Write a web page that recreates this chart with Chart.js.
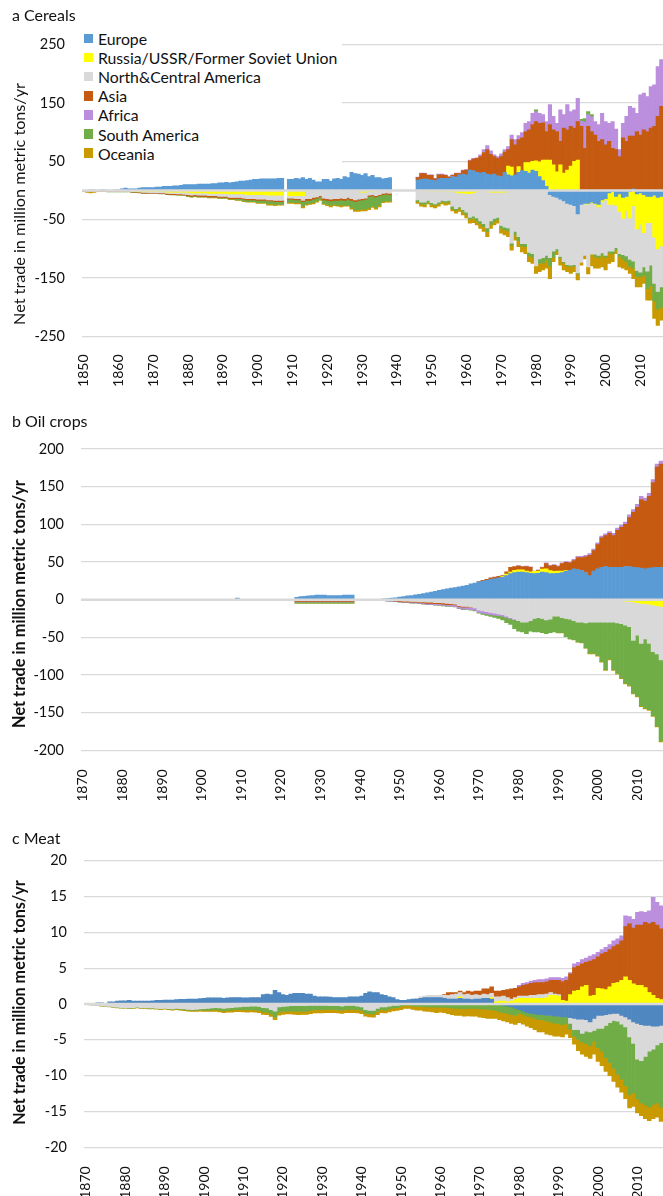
<!DOCTYPE html>
<html>
<head>
<meta charset="utf-8">
<script src="https://cdn.jsdelivr.net/npm/chart.js@4.4.1/dist/chart.umd.min.js"></script>
<style>
  body { margin: 0; width: 663px; height: 1196px; overflow: hidden; background: #fff; position: relative; font-family: Lato, sans-serif; }
  canvas { position: absolute; left: 0; }
  #legend { position: absolute; left: 81px; top: 29px; width: 261px; height: 136px; background: #fff; z-index: 2; }
  #legend div { height: 19.1px; display: flex; align-items: center; font-size: 15.8px; color: #111; white-space: nowrap; }
  #legend span { display: inline-block; width: 9.4px; height: 9.4px; margin: 0 5px 0 2.5px; }
</style>
</head>
<body>
<canvas id="cereals" width="663" height="392" style="top:0"></canvas>
<canvas id="oil" width="663" height="400" style="top:400px"></canvas>
<canvas id="meat" width="663" height="396" style="top:800px"></canvas>
<div id="legend"></div>
<script>
'use strict';
const regions = ['Europe', 'Russia/USSR/Former Soviet Union', 'North&Central America', 'Asia', 'Africa', 'South America', 'Oceania'];
const colors = ['#5B9BD5', '#FFFF00', '#D9D9D9', '#C55A11', '#BB8FDD', '#70AD47', '#C99A00'];
const meatColors = ['#4F87C0', '#FFFF00', '#D9D9D9', '#C55A11', '#BB8FDD', '#70AD47', '#C99A00'];
const yTitle = 'Net trade in million metric tons/yr';

// a Cereals, 1850-2016 (null = no data)
const cerealEurope = [
  0.5,0.5,1,1,0.5,1,1,0.5,0.5,1,
  1,3,4,3,3,3,4,5,5,5,
  5,6,6,7,7,7,8,8,9,10,
  10,10,10,11,11,11,11,12,12,13,
  13,14,13,14,15,16,16,17,18,19,
  19,20,20,20,20,20,21,21,null,19,
  19,21,20,22,19,21,18,15,15,19,
  19,16,20,21,19,24,22,31,29,28,
  26,29,24,26,22,22,20,21,22,null,
  null,null,null,null,null,null,18,19,20,19,
  18,17,20,21,21,21,24,23,27,28,
  27,35,34,31,30,31,28,27,28,25,
  24,31,27,25,27,31,34,33,30,35,
  33,24,17,7,-7,-10,-12,-15,-18,-22,
  -24,-26,-40,-24,-22,-22,-20,-22,-24,-16,
  -14,-4,-2,-10,-6,-12,-10,-2,3,-6,
  -4,-7,-10,-10,-8,-12,-10
];
const cerealRussia = [
  0,0,0,0,0,0,0,0,0,0,
  0,0,0,0,-1,-1,-1,-2,-2,-2,
  -2,-2,-2,-2,-3,-3,-3,-3,-3,-3,
  -3,-4,-4,-4,-4,-4,-5,-5,-5,-5,
  -5,-5,-6,-6,-6,-6,-6,-7,-7,-7,
  -7,-7,-7,-8,-8,-8,-8,-8,null,-9,
  -9,-9,-9,-9,-1,0,0,0,0,0,
  0,0,0,0,0,0,0,0,0,-1,
  -3,-3,-2,-1,-1,0,0,0,0,null,
  null,null,null,null,null,null,0,0,-1,-1,
  -1,-1,-1,-1,-1,-2,-2,-3,-4,-4,
  -5,-5,-4,-2,0,0,-1,-3,-3,-3,
  -3,-3,15,15,0,10,0,15,18,15,
  18,25,35,45,52,44,32,44,30,35,
  42,50,52,0,-1,-1,-1,-2,-4,-4,
  -2,-20,-22,-15,-30,-36,-25,-45,-26,-60,
  -54,-65,-45,-45,-72,-88,-85
];
const cerealNCA = [
  -1,-1,-1,-1,-1,-1,-1,-1,-1,-1,
  -1,-1,-1,-1,-1,-1,-1.5,-1.5,-1.5,-2,
  -2,-2,-2,-2,-2,-2.5,-2.5,-3,-3,-3.5,
  -4,-4,-3,-4,-4,-4,-4,-4,-4,-5,
  -5,-5,-6,-6,-6,-6,-7,-7,-7,-7,
  -8,-8,-8,-8,-8,-9,-9,-9,null,-4,
  -4,-5,-5,-8,-13,-14,-12,-11,-9,-13,
  -14,-15,-14,-14,-13,-14,-12,-14,-16,-14,
  -11,-10,-6,-6,-8,-7,-5,-4,-5,null,
  null,null,null,null,null,null,-16,-20,-19,-16,
  -20,-22,-19,-16,-17,-15,-25,-28,-24,-29,
  -32,-41,-40,-45,-52,-57,-63,-49,-45,-43,
  -57,-60,-64,-90,-70,-79,-91,-91,-106,-108,
  -129,-117,-115,-111,-108,-94,-88,-98,-104,-105,
  -104,-101,-101,-99,-88,-108,-88,-85,-83,-87,
  -95,-80,-80,-73,-72,-62,-77,-71,-95,-71,
  -82,-59,-83,-73,-79,-73,-70
];
const cerealAsia = [
  -0.5,-0.5,-0.5,-0.5,-0.5,-0.5,-0.5,-1,-1,-1,
  -1,-1,-1,-1,-1,-1,-1,-1,-1,-1,
  -1,-1,-1.5,-1.5,-1.5,-1.5,-1.5,-1.5,-1.5,-1.5,
  -2,-2,-2,-2,-2,-2,-2,-2,-2,-2,
  -2,-2,-2,-2,-2,-2,-2,-2,-2,-2,
  -2,-2,-2,-2,-2,-2,-2,-2,null,-2,
  -2,-2,-2,-2,-3,-3,-3,-2,-2,-3,
  -3,-3,-3,-3,-3,-3,-3,-3,-3,-2,
  -2,-2,-2,-2,-2,-2,-2,-2,-2,null,
  null,null,null,null,null,null,4,10,9,7,
  8,3,7,6,5,2,2,6,2,6,
  8,16,20,24,28,34,42,35,30,30,
  34,35,28,47,51,46,56,53,56,63,
  67,66,64,49,61,60,69,40,77,69,
  68,57,66,110,72,110,101,95,84,87,
  78,84,72,70,58,90,84,93,90,101,
  95,104,101,107,110,127,144
];
const cerealAfrica = [
  0,0,0,0,0,0,0,0,0,0,
  0,0,0,0,0,0,0,0,0,0,
  0,0,0,0,0,0,0,0,0,0,
  0,0,0,0,0,0,0,0,0,0,
  0,0,0,0,0,0,0,0,0,0,
  0,0,0,0,0,0,0,0,null,0,
  0,0,0,0,0,0,0,0,0,0,
  0,0,0,0,0,0,0,0,0,0,
  0,0,0,0,0,0,0,0,0,null,
  null,null,null,null,null,null,1,1,1,1,
  1,1,1,1,1,1,1,1,1,1,
  1,1,1,1,3,5,7,6,3,3,
  5,4,5,8,9,7,9,14,14,19,
  17,17,14,17,34,23,14,54,23,43,
  25,31,40,9,45,20,25,23,29,45,
  40,31,46,35,12,25,43,51,48,31,
  69,63,60,71,71,85,80
];
const cerealSouthAm = [
  -0.5,-0.5,-0.5,-0.5,-0.5,-0.5,-0.5,-0.5,-0.5,-0.5,
  -0.5,-0.5,-0.5,-0.5,-0.5,-0.5,-0.5,-0.5,-0.5,-0.5,
  -0.5,-0.5,-0.5,-0.5,-0.5,-0.5,-0.5,-0.5,-0.5,-0.5,
  -1,-1,-1,-1,-1,-1,-1,-1,-1,-1,
  -1,-1,-1,-1,-2,-2,-3,-3,-3,-3,
  -4,-4,-4,-5,-5,-5,-5,-5,null,-5,
  -5,-5,-5,-8,-6,-5,-6,-5,-4,-6,
  -7,-7,-7,-8,-9,-8,-10,-12,-14,-16,
  -16,-17,-20,-17,-18,-16,-12,-12,-11,null,
  null,null,null,null,null,null,-3,-3,-4,-3,
  -3,-2,-3,-2,-3,-3,-4,-3,-3,-3,
  -4,-3,-4,-5,-5,-5,-6,-6,-5,-4,
  -5,-4,-5,-4,-6,-7,-4,-5,-6,-6,
  3,-8,-9,-8,-14,-10,-4,-3,-2,-2,
  -2,-2,-2,3,6,5,4,-4,-4,-4,
  -3,-3,-4,-4,-5,-7,-10,-12,-12,-10,
  -8,-14,-30,-35,-30,-30,-35
];
const cerealOceania = [
  0,-1.5,-2,-1.5,0,0,0,0,0,0,
  0,0,0,0,0,0,0,0,0,0,
  0,0,0,0,0,0,0,0,0,0,
  -0.5,-0.5,-0.5,-0.5,-0.5,-0.5,-0.5,-0.5,-0.5,-0.5,
  -0.5,-0.5,-0.5,-0.5,-1,-1,-1,-1,-1,-1,
  -1,-1,-1,-2,-2,-2,-1,-1,null,-2,
  -2,-2,-2,-3,-2,-2,-2,-2,-2,-2,
  -2,-3,-2,-2,-3,-2,-2,-3,-3,-3,
  -3,-3,-3,-3,-3,-3,-2,-2,-2,null,
  null,null,null,null,null,null,-3,-4,-4,-3,
  -4,-5,-4,-4,-4,-4,-4,-5,-5,-6,
  -6,-7,-7,-7,-8,-8,-9,-7,-6,-6,
  -8,-9,-10,-8,-9,-10,-10,-12,-10,-11,
  -13,-14,-12,-14,-22,-8,-6,-12,-12,-10,
  -12,-10,-10,-5,-6,-12,-20,-20,-18,-20,
  -22,-18,-14,-6,-18,-16,-14,-12,-18,-18,
  -17,-14,-20,-25,-30,-28,-22
];

// b Oil crops, 1870-2016
const oilEurope = [
  0,0,0,0,0,0,0,0,0,0,
  0,0,0,0,0,0,0,0,0,0,
  0,0,0,0,0,0,0,0,0,0,
  0,0,0,0,0,0,0,0,0,2,
  0,0,0,0,0,0,0,0,0,0,
  0,0,0,0,3,4,4.5,5,5.5,6,
  6,6,5.5,5.5,5.5,5.5,6,6,6,null,
  null,null,null,null,null,null,1,1.5,2,2.5,
  3.5,4,5,5.5,6.5,7,8,9,10,11,
  12.5,13.5,14.5,15.5,16,17,18,19,21,22,
  23.5,24.5,25.5,27,28,29,30,32,34.5,36,
  36.7,36.5,36,35,34.5,35,36.7,36,34.5,34.5,
  35,36,37.6,39,41,40,39,36,32,38,
  41,43,44,43,43,43,43,44,44,43,
  42.5,42,41,42,42.5,43,43
];
const oilRussia = [
  0,0,0,0,0,0,0,0,0,0,
  0,0,0,0,0,0,0,0,0,0,
  0,0,0,0,0,0,0,0,0,0,
  0,0,0,0,0,0,0,0,0,-0.8,
  0,0,0,0,0,0,0,0,0,0,
  0,0,0,0,0,0,0,0,0,0,
  0,0,0,0,0,0,0,0,0,null,
  null,null,null,null,null,null,0,0,0,0,
  0,0,0,0,0,0,0,0,0,0,
  0,0,0,0,0,0,0,0,0,0,
  0,0,0,0,0,0,1,2,2,3,
  3,3,2,2,3,3,4,5,4,3,
  3,2,1,0,0,0,0,0,0,0,
  -1,-1,-1.5,-1,-1.5,-1,-1.5,-2,-2,-3,
  -4,-5,-5,-6,-7,-8,-9
];
const oilNCA = [
  0,0,0,0,0,0,0,0,0,0,
  0,0,0,0,0,0,0,0,0,0,
  0,0,0,0,0,0,0,0,0,0,
  0,0,0,0,0,0,0,0,0,0,
  0,0,0,0,0,0,0,0,0,0,
  0,0,0,0,-0.5,-0.5,-0.5,-0.5,-0.5,-0.5,
  -0.5,-0.5,-0.5,-0.5,-0.5,-0.5,-0.5,-0.5,-0.5,null,
  null,null,null,null,null,null,-0.5,-1,-1,-1.5,
  -1.5,-2,-2,-2.5,-2.5,-3,-3,-3.5,-3.5,-4,
  -4,-4.5,-5,-5.5,-6,-8,-9,-9,-10,-11,
  -14,-15,-16,-17,-18,-19,-20,-22,-24,-26,
  -28,-30,-30,-28,-25,-24,-25,-27,-26,-22,
  -22,-24,-25,-26,-28,-30,-30,-31,-30,-30,
  -29,-29,-28.5,-29,-28.5,-30,-30.5,-32,-34,-51,
  -43,-53,-47,-52,-62,-64,-71
];
const oilAsia = [
  0,0,0,0,0,0,0,0,0,0,
  0,0,0,0,0,0,0,0,0,0,
  0,0,0,0,0,0,0,0,0,0,
  0,0,0,0,0,0,0,0,0,0,
  0,0,0,0,0,0,0,0,0,0,
  0,0,0,0,-2,-2,-2,-2,-2,-2,
  -2,-2,-2,-2,-2,-2,-2,-2,-2,null,
  null,null,null,null,null,null,-0.2,-0.5,-0.5,-0.5,
  -1,-1,-1,-1,-1,-1,-1.5,-1.5,-1.5,-1.5,
  -1.5,-1.5,-1.5,-1,-1,-1,-1,-0.5,-0.5,0,
  0.5,1,1.5,2,2,2,1,3,6.5,5,
  5,4,6,6,0,1,2,7,6,8,
  6,10,11,10,11,16,17,21,27,27,
  32,39,41,45,42,49,53,56,65,73,
  80,91,90,95,113,133,137
];
const oilAfrica = [
  0,0,0,0,0,0,0,0,0,0,
  0,0,0,0,0,0,0,0,0,0,
  0,0,0,0,0,0,0,0,0,0,
  0,0,0,0,0,0,0,0,0,0,
  0,0,0,0,0,0,0,0,0,0,
  0,0,0,0,-0.6,-0.6,-0.6,-0.6,-0.6,-0.6,
  -0.6,-0.6,-0.6,-0.6,-0.6,-0.6,-0.6,-0.6,-0.6,null,
  null,null,null,null,null,null,-0.3,-0.4,-0.5,-0.5,
  -0.5,-0.6,-0.7,-0.8,-0.9,-1,-1.1,-1.2,-1.3,-1.4,
  -1.5,-1.7,-1.9,-2,-2.2,-2.5,-2.6,-2.7,-2.8,-3,
  -3,-3,-3,-2.8,-2.5,-2,-2,-1.5,-1,-0.5,
  0.5,0.5,0.5,0.5,0.5,0.5,0.5,1,1,1,
  1,1,1,1,1.5,1.5,1.5,2,2,2,
  2.5,2.5,2.5,2.5,3,3,3,3,3.5,3.5,
  4,4,4,4,4,4,4
];
const oilSouthAm = [
  0,0,0,0,0,0,0,0,0,0,
  0,0,0,0,0,0,0,0,0,0,
  0,0,0,0,0,0,0,0,0,0,
  0,0,0,0,0,0,0,0,0,0,
  0,0,0,0,0,0,0,0,0,0,
  0,0,0,0,-1.5,-1.5,-1.5,-1.5,-1.5,-1.5,
  -1.5,-1.5,-1.5,-1.5,-1.5,-1.5,-1.5,-1.5,-1.5,null,
  null,null,null,null,null,null,-0.2,-0.2,-0.3,-0.3,
  -0.3,-0.3,-0.3,-0.3,-0.3,-0.4,-0.4,-0.4,-0.4,-0.5,
  -0.5,-0.5,-0.5,-0.5,-0.5,-0.6,-0.6,-0.7,-0.7,-0.8,
  -1,-1.5,-2,-2.5,-3,-4,-5,-7,-8,-12,
  -14,-13,-15,-14,-18,-19,-19,-18,-18,-21,
  -22,-20,-24,-26,-25,-26,-27,-33,-41,-41,
  -44,-52,-63,-49,-63,-67,-72,-77,-78,-70,
  -81,-83,-92,-88,-85,-96,-108
];
const oilOceania = [
  0,0,0,0,0,0,0,0,0,0,
  0,0,0,0,0,0,0,0,0,0,
  0,0,0,0,0,0,0,0,0,0,
  0,0,0,0,0,0,0,0,0,0,
  0,0,0,0,0,0,0,0,0,0,
  0,0,0,0,-0.2,-0.2,-0.2,-0.2,-0.2,-0.2,
  -0.2,-0.2,-0.2,-0.2,-0.2,-0.2,-0.2,-0.2,-0.2,null,
  null,null,null,null,null,null,0,0,0,0,
  0,0,0,0,0,0,0,0,0,0,
  0,0,0,0,0,0,0,0,0,0,
  0,0,0,0,0,0,0,0,0,0,
  0,0,0,0,0,0,0,0,0,0,
  -0.3,-0.3,-0.3,-0.3,-0.3,-0.3,-0.3,-0.3,-1,-1,
  -1,-1,-1,-1,-1,-1,-1,-1,-1,-1,
  -1,-1,-1,-1,-1,-1,-1
];

// c Meat, 1870-2016
const meatEurope = [
  0,0,0.1,0.15,0.15,0.1,0.3,0.3,0.4,0.45,
  0.45,0.5,0.4,0.4,0.4,0.4,0.4,0.45,0.5,0.5,
  0.55,0.55,0.55,0.6,0.65,0.65,0.7,0.7,0.7,0.75,
  0.8,0.85,0.85,0.85,0.85,0.8,0.85,0.9,0.9,0.9,
  0.85,0.85,0.9,0.9,0.9,1.3,1.4,1.3,1.9,1.6,
  1.3,1.2,1.4,1.5,1.5,1.5,1.4,1.4,1.1,1.0,
  1.0,1.0,0.95,0.9,0.9,0.9,0.9,1.0,1.0,1.0,
  1.1,1.5,1.7,1.6,1.6,1.3,1.2,1.0,0.9,0.6,
  0.5,0.5,0.6,0.7,0.7,0.8,0.9,0.9,0.9,0.9,
  0.9,0.8,0.7,0.7,0.7,0.8,0.7,0.7,0.6,0.7,
  0.7,0.8,0.8,0.7,0,-0.1,-0.2,-0.3,-0.4,-0.6,
  -0.8,-1.0,-1.2,-1.3,-1.4,-1.5,-1.5,-1.6,-1.6,-1.7,
  -1.7,-1.8,-1.8,-1.9,-2.0,-2.1,-2.1,-2.2,-2.5,-2.0,
  -1.6,-1.6,-1.5,-1.4,-1.3,-1.3,-1.6,-1.8,-2.1,-2.5,
  -2.7,-2.9,-3.0,-3.0,-3.1,-3.1,-3.0
];
const meatRussia = [
  0,0,0,0,0,0,0,0,0,0,
  0,0,0,0,0,0,0,0,0,0,
  0,0,0,0,0,0,0,0,0,0,
  0,0,0,0,0,0,0,0,0,0,
  0,0,0,0,0,0,0,0,0,0,
  0,0,0,0,0,0,0,0,0,0,
  0,0,0,0,0,0,0,0,0,0,
  0,0,0,0,0,0,0,0,0,0,
  0,0,0,0,0,0,0,0,0,0,
  0,0,0,0,0,0.2,0,0,0,0,
  0,0,0,0.2,0.3,0.4,0.4,0.3,0.4,0.6,
  0.8,0.8,0.8,0.8,0.8,0.8,0.8,0.9,1.2,1.2,
  1.1,0.5,0.4,1.3,1.8,1.9,2.4,2.6,1.1,1.2,
  2.2,2.1,2.0,2.4,2.9,3.0,3.3,3.8,3.3,2.8,
  2.6,2.6,2.3,1.6,1.2,0.8,0.6
];
const meatNCA = [
  -0.05,-0.1,-0.15,-0.2,-0.25,-0.3,-0.35,-0.4,-0.45,-0.5,
  -0.5,-0.55,-0.5,-0.45,-0.5,-0.5,-0.55,-0.55,-0.6,-0.65,
  -0.6,-0.65,-0.7,-0.6,-0.65,-0.7,-0.75,-0.8,-0.75,-0.7,
  -0.65,-0.6,-0.55,-0.5,-0.55,-0.6,-0.55,-0.5,-0.45,-0.4,
  -0.35,-0.35,-0.3,-0.3,-0.35,-0.5,-0.55,-0.8,-1.0,-0.4,
  -0.35,-0.3,-0.25,-0.25,-0.25,-0.25,-0.25,-0.2,-0.2,-0.2,
  -0.2,-0.2,-0.25,-0.25,-0.25,-0.3,-0.2,-0.2,-0.2,-0.3,
  -0.4,-0.8,-0.9,-0.9,-0.6,-0.4,-0.4,-0.3,-0.2,-0.2,
  -0.1,0,0,0,0.1,0.2,0.2,0.3,0.3,0.3,
  0.3,0.4,0.5,0.6,0.7,0.6,0.6,0.7,0.6,0.6,
  0.5,0.6,0.5,0.6,0.7,0.6,0.7,0.6,0.3,0.3,
  0.3,0.3,0.3,0.4,0.4,0.5,0.5,0.5,0.4,0.2,
  0.2,0,0,-0.8,-1.6,-1.5,-2.0,-1.6,-1.4,-1.7,
  -1.8,-1.8,-1.5,-1.2,-1.0,-1.1,-1.2,-1.4,-2.5,-3.0,
  -5.0,-5.0,-4.3,-3.6,-3.2,-2.6,-2.4
];
const meatAsia = [
  0,0,0,0,0,0,0,0,0,0,
  0,0,0,0,0,0,0,0,0,0,
  0,0,0,0,0,0,0,0,0,0,
  0,0,0,0,0,0,0,0,0,0,
  0,0,0,0,0,0,0,0,0,0,
  0,0,0,0,0,0,0,0,0,0,
  0,0,0,0,0,0,0,0,0,0,
  0,0,0,0,0,0,0,0,0,0,
  0,0,0,0,0,0,0,0,0,0,
  0,0.1,0.4,0.3,0.2,0.2,0.3,0.4,0.5,0.5,
  0.6,0.7,0.8,0.9,0.8,0.8,0.8,1.1,1.4,1.3,
  1.3,1.5,1.6,1.7,1.8,1.7,1.7,1.7,1.7,1.9,
  2.0,2.6,2.9,2.9,3.3,3.4,3.2,3.2,4.9,5.0,
  4.4,4.9,5.2,5.2,5.1,5.3,5.5,7.0,7.9,7.8,
  8.4,8.4,9.1,9.6,10.2,10.2,9.9
];
const meatAfrica = [
  0,0,0,0,0,0,0,0,0,0,
  0,0,0,0,0,0,0,0,0,0,
  0,0,0,0,0,0,0,0,0,0,
  0,0,0,0,0,0,0,0,0,0,
  0,0,0,0,0,0,0,0,0,0,
  0,0,0,0,0,0,0,0,0,0,
  0,0,0,0,0,0,0,0,0,0,
  0,0,0,0,0,0,0,0,0,0,
  0,0,0,0,0,0,0,0,0,0,
  0,0,0,0,0,0,0,0,0,0,
  0,0,0,0,0,0,0,0,0,0,
  0.2,0.3,0.3,0.3,0.3,0.4,0.4,0.4,0.4,0.4,
  0.4,0.5,0.5,0.2,0.5,0.5,0.6,0.6,0.7,0.7,
  0.6,0.6,0.7,0.7,0.8,0.8,0.7,1.5,1.0,1.2,
  1.8,1.9,1.4,1.8,3.5,3.2,3.2
];
const meatSouthAm = [
  -0.02,-0.02,-0.02,-0.03,-0.03,-0.03,-0.03,-0.04,-0.04,-0.04,
  -0.04,-0.05,-0.05,-0.05,-0.05,-0.05,-0.05,-0.05,-0.05,-0.05,
  -0.05,-0.05,-0.05,-0.1,-0.1,-0.1,-0.1,-0.1,-0.15,-0.15,
  -0.2,-0.25,-0.3,-0.3,-0.35,-0.35,-0.35,-0.35,-0.35,-0.4,
  -0.45,-0.5,-0.5,-0.55,-0.55,-0.6,-0.6,-0.6,-0.8,-0.75,
  -0.7,-0.7,-0.7,-0.75,-0.8,-0.75,-0.75,-0.7,-0.6,-0.6,
  -0.6,-0.55,-0.5,-0.5,-0.55,-0.55,-0.55,-0.55,-0.55,-0.5,
  -0.5,-0.5,-0.45,-0.5,-0.45,-0.4,-0.45,-0.4,-0.35,-0.3,
  -0.25,-0.2,-0.2,-0.3,-0.35,-0.35,-0.4,-0.4,-0.4,-0.45,
  -0.45,-0.45,-0.5,-0.55,-0.6,-0.6,-0.65,-0.6,-0.6,-0.6,
  -0.7,-0.7,-0.75,-0.8,-0.9,-1.0,-1.0,-1.0,-1.1,-1.0,
  -0.5,-0.5,-0.5,-0.5,-0.6,-0.7,-0.7,-0.8,-0.9,-1.0,
  -1.0,-1.1,-0.9,-0.8,-0.9,-1.3,-1.2,-1.7,-1.9,-1.5,
  -2.7,-3.2,-4.5,-5.6,-6.7,-7.4,-7.7,-8.2,-8.1,-6.9,
  -5.6,-5.9,-6.8,-7.8,-7.7,-8.1,-9.0
];
const meatOceania = [
  0,0,0,-0.02,-0.02,-0.03,-0.03,-0.03,-0.04,-0.04,
  -0.05,-0.05,-0.06,-0.06,-0.06,-0.07,-0.07,-0.08,-0.08,-0.08,
  -0.08,-0.09,-0.1,-0.1,-0.12,-0.13,-0.14,-0.15,-0.15,-0.15,
  -0.2,-0.2,-0.2,-0.22,-0.22,-0.25,-0.25,-0.28,-0.28,-0.28,
  -0.3,-0.3,-0.3,-0.3,-0.3,-0.35,-0.35,-0.35,-0.4,-0.4,
  -0.4,-0.4,-0.45,-0.45,-0.45,-0.45,-0.45,-0.45,-0.45,-0.45,
  -0.45,-0.45,-0.45,-0.45,-0.45,-0.45,-0.45,-0.45,-0.45,-0.45,
  -0.45,-0.4,-0.45,-0.45,-0.45,-0.4,-0.4,-0.4,-0.4,-0.4,
  -0.45,-0.4,-0.4,-0.45,-0.5,-0.5,-0.6,-0.65,-0.7,-0.75,
  -0.7,-0.75,-0.85,-0.95,-1.0,-1.0,-1.05,-1.05,-1.1,-1.1,
  -1.15,-1.2,-1.25,-1.2,-1.1,-1.1,-1.15,-1.2,-1.2,-1.25,
  -1.3,-1.3,-1.4,-1.5,-1.6,-1.7,-1.7,-1.8,-1.8,-1.8,
  -1.8,-1.7,-1.5,-1.2,-1.1,-1.6,-1.7,-1.8,-1.8,-1.8,
  -1.9,-2.0,-1.9,-1.8,-1.8,-1.8,-1.8,-1.8,-1.8,-1.9,
  -1.9,-1.8,-1.9,-1.9,-2.0,-2.0,-2.0
];

const cerealYears = [];
for (let y = 1850; y <= 2016; y++) cerealYears.push(y);
const otherYears = [];
for (let y = 1870; y <= 2016; y++) otherYears.push(y);

Chart.defaults.font.family = 'Lato';
Chart.defaults.color = '#111';

// horizontal axis line at zero, drawn over the bars like in the source figure
const zeroLine = {
  id: 'zeroLine',
  afterDatasetsDraw(chart) {
    const ctx = chart.ctx;
    const area = chart.chartArea;
    const y = chart.scales.y.getPixelForValue(0);
    ctx.save();
    ctx.strokeStyle = '#D9D9D9';
    ctx.lineWidth = 2.5;
    ctx.beginPath();
    ctx.moveTo(area.left, y);
    ctx.lineTo(area.right, y);
    ctx.stroke();
    ctx.restore();
  }
};

// vertical axis title, sized so that it spans the same length as in the source figure
const axisTitle = {
  id: 'axisTitle',
  afterDraw(chart, args, opts) {
    const ctx = chart.ctx;
    const weight = opts.bold ? 'bold ' : '';
    ctx.save();
    ctx.font = weight + '14px Lato';
    const size = 14 * opts.length / ctx.measureText(yTitle).width;
    ctx.font = weight + size.toFixed(2) + 'px Lato';
    ctx.translate(opts.x, opts.y);
    ctx.rotate(-Math.PI / 2);
    ctx.fillStyle = '#111';
    ctx.textAlign = 'center';
    ctx.textBaseline = 'middle';
    ctx.fillText(yTitle, 0, 0);
    ctx.restore();
  }
};

function makeChart(id, years, series, o) {
  const datasets = series.map((arr, i) => ({
    label: regions[i],
    // zero-height bars are left out so they do not leave slivers on the stacks
    data: arr.map(v => (v === 0 ? null : v)),
    backgroundColor: o.colors[i],
    borderWidth: 0,
    categoryPercentage: 1,
    barPercentage: 1
  }));
  return new Chart(document.getElementById(id), {
    type: 'bar',
    data: { labels: years, datasets: datasets },
    options: {
      responsive: false,
      animation: false,
      layout: { padding: { left: 12, right: 0, top: 0, bottom: 0 } },
      plugins: {
        legend: { display: false },
        tooltip: { enabled: false },
        title: {
          display: true, text: o.title, align: 'start', color: '#111',
          font: { size: 16, weight: 'normal' }, padding: o.titlePad
        },
        axisTitle: o.axisTitle
      },
      scales: {
        x: {
          stacked: true,
          grid: { display: false },
          border: { display: false },
          ticks: {
            autoSkip: false, minRotation: 90, maxRotation: 90, padding: o.xPad,
            font: { size: 14 }, color: '#111',
            callback: (v, i) => (years[i] % 10 === 0 ? String(years[i]) : '')
          },
          afterFit: s => {
            s.height = o.xHeight;
            s.paddingLeft = 0;
            s.paddingRight = 0;
          }
        },
        y: {
          stacked: true, min: o.min, max: o.max,
          ticks: { stepSize: o.step, padding: 17, font: { size: 14.5 }, color: '#111' },
          grid: { color: '#D9D9D9', lineWidth: 1.3, drawTicks: false },
          border: { display: false },
          afterFit: s => { s.width = o.yWidth; }
        }
      }
    },
    plugins: [zeroLine, axisTitle]
  });
}

makeChart('cereals', cerealYears,
  [cerealEurope, cerealRussia, cerealNCA, cerealAsia, cerealAfrica, cerealSouthAm, cerealOceania],
  { title: 'a Cereals', colors: colors, min: -250, max: 250, step: 100,
    titlePad: { top: 6.4, bottom: 18.9 }, xHeight: 55.5, xPad: 10, yWidth: 70,
    axisTitle: { bold: false, length: 242, x: 20, y: 204 } });

makeChart('oil', otherYears,
  [oilEurope, oilRussia, oilNCA, oilAsia, oilAfrica, oilSouthAm, oilOceania],
  { title: 'b Oil crops', colors: colors, min: -200, max: 200, step: 50,
    titlePad: { top: 11.9, bottom: 17.9 }, xHeight: 49.7, xPad: 11, yWidth: 69,
    axisTitle: { bold: true, length: 248, x: 20, y: 204 } });

makeChart('meat', otherYears,
  [meatEurope, meatRussia, meatNCA, meatAsia, meatAfrica, meatSouthAm, meatOceania],
  { title: 'c Meat', colors: meatColors, min: -20, max: 20, step: 5,
    titlePad: { top: 29.5, bottom: 12 }, xHeight: 48.7, xPad: 11, yWidth: 72,
    axisTitle: { bold: true, length: 245, x: 20, y: 202.5 } });

// legend of panel a, drawn inside the plot area at top left
const legendBox = document.getElementById('legend');
regions.forEach((name, i) => {
  const row = document.createElement('div');
  const sw = document.createElement('span');
  sw.style.background = colors[i];
  row.appendChild(sw);
  row.appendChild(document.createTextNode(name));
  legendBox.appendChild(row);
});
</script>
</body>
</html>
